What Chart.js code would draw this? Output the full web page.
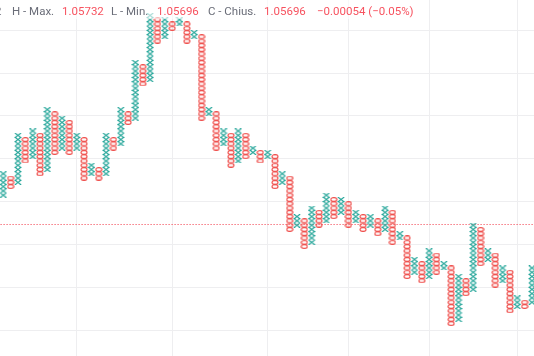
<!DOCTYPE html>
<html><head><meta charset="utf-8">
<script src="https://cdn.jsdelivr.net/npm/chart.js@4.4.1/dist/chart.umd.min.js"></script>
<style>html,body{margin:0;padding:0;background:#fff;overflow:hidden}#wrap{position:relative;width:534px;height:356px}</style>
</head><body><div id="wrap"><canvas id="c" width="534" height="356"></canvas></div>
<script>
// Point & Figure columns (box indices, low..high inclusive)
const columnTypes = ['X','O','X','O','X','O','X','O','X','O','X','O','X','O','X','O','X','O','X','O','X','O','X','O','X','O','X','O','X','O','X','O','X','O','X','O','X','O','X','O','X','O','X','O','X','O','X','O','X','O','X','O','X','O','X','O','X','O','X','O','X','O','X','O','X','O','X','O','X','O','X','O','X'];
const columnLows  = [31,33,34,39,40,36,37,41,42,41,42,35,36,35,36,42,43,48,49,57,58,67,68,70,71,67,68,49,50,42,43,38,39,40,41,39,40,33,34,23,24,19,20,24,25,26,27,24,25,23,24,22,23,20,21,12,13,11,12,13,14,1,2,8,9,15,16,10,11,4,5,5,6];
const columnHighs = [36,35,45,44,46,45,51,50,49,48,45,44,38,37,45,44,51,50,62,61,73,72,72,71,72,71,69,68,51,50,46,45,46,45,42,41,41,40,36,35,26,25,28,27,31,30,30,29,27,26,26,25,28,27,22,21,16,15,18,17,15,14,12,11,24,23,18,17,14,13,7,6,14];
const timeGridColumns = [10,23,36,47,58,70];
const priceGridLevels = [0,10,20,30,40,50,60,70];
const lastPriceLevel = 24.65;
const legendParts = [
  {t:'2', c:'gray'}, {t:'H - Max.', c:'gray'}, {t:'1.05732', c:'red'},
  {t:'L - Min.', c:'gray'}, {t:'1.05696', c:'red'},
  {t:'C - Chius.', c:'gray'}, {t:'1.05696', c:'red'}, {t:'\u22120.00054 (\u22120.05%)', c:'red'}
];
const legendX = [-5, 12, 62, 111, 157, 208, 264, 317];

const UP = '#26a69a', DOWN = '#ef5350';

function makeX(){
  const c = document.createElement('canvas'); c.width = 8; c.height = 5;
  const g = c.getContext('2d'); g.strokeStyle = UP; g.lineWidth = 1.25;
  g.beginPath(); g.moveTo(0.8,0.1); g.lineTo(7.2,4.9); g.moveTo(7.2,0.1); g.lineTo(0.8,4.9); g.stroke();
  return c;
}
function makeO(){
  const c = document.createElement('canvas'); c.width = 8; c.height = 5;
  const g = c.getContext('2d'); g.strokeStyle = DOWN; g.lineWidth = 1.15;
  g.beginPath(); g.ellipse(4,2.5,3.0,1.95,0,0,Math.PI*2); g.stroke();
  return c;
}

const xPts = [], oPts = [];
columnTypes.forEach((t,k)=>{
  for(let b=columnLows[k]; b<=columnHighs[k]; b++){
    (t==='X'?xPts:oPts).push({x:k, y:b+0.5});
  }
});

const legendPlugin = {
  id:'legendText',
  afterDraw(chart){
    const ctx = chart.ctx;
    ctx.save();
    ctx.fillStyle = 'rgba(255,255,255,0.6)';
    ctx.fillRect(0,0,425,19);
    ctx.font = '11.5px Roboto, "Noto Sans", sans-serif';
    ctx.textBaseline = 'alphabetic';
    legendParts.forEach((p,i)=>{
      ctx.fillStyle = p.c==='red' ? '#f7525f' : '#6a6d78';
      ctx.fillText(p.t, legendX[i], 15);
    });
    ctx.restore();
  }
};

new Chart(document.getElementById('c'), {
  type:'scatter',
  data:{datasets:[
    {data:xPts, pointStyle:makeX(), pointRadius:4, showLine:false},
    {data:oPts, pointStyle:makeO(), pointRadius:4, showLine:false},
    {type:'line', data:[{x:-2,y:lastPriceLevel},{x:75,y:lastPriceLevel}], borderColor:'#f23645', borderWidth:1, borderDash:[1,2], pointRadius:0, fill:false}
  ]},
  options:{
    responsive:false, animation:false, events:[],
    layout:{padding:0, autoPadding:false},
    plugins:{legend:{display:false}, tooltip:{enabled:false}},
    scales:{
      x:{type:'linear', min:-0.445, max:72.28,
        afterBuildTicks(a){ a.ticks = timeGridColumns.map(v=>({value:v})); },
        ticks:{display:false}, border:{display:false},
        grid:{color:'#eeeef0', drawTicks:false, lineWidth:1}},
      y:{type:'linear', min:-6.07, max:77.1,
        afterBuildTicks(a){ a.ticks = priceGridLevels.map(v=>({value:v})); },
        ticks:{display:false}, border:{display:false},
        grid:{color:'#eeeef0', drawTicks:false, lineWidth:1}}
    }
  },
  plugins:[legendPlugin]
});
</script></body></html>
